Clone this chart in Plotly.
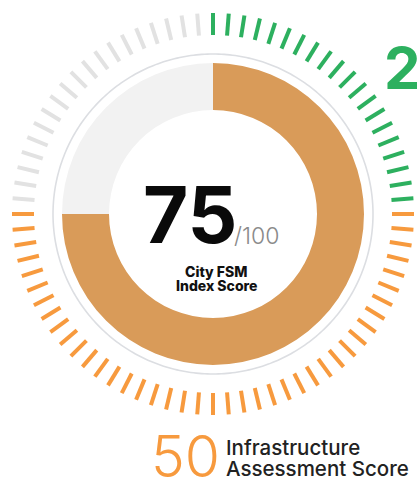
import numpy as np
import plotly.graph_objects as go

# ---- data ----
index_score = 75
index_max = 100
segments = ["Score", "Remaining"]
segment_values = [75, 25]
tick_groups = ["green", "orange", "gray"]
tick_group_counts = [20, 41, 19]          # ticks per coloured group (clockwise from 12 o'clock)
green_score_label = "25"
infra_score_label = "50"
center_lines = ["City FSM", "Index Score"]
infra_lines = ["Infrastructure", "Assessment Score"]

# ---- style ----
W, H = 417, 484
CX, CY = 213, 214          # centre in px (from top-left)
RPX = 204                  # radius of polar domain in px
donut_colors = ["#D99B59", "#F2F2F2"]
tick_colors = {"green": "#2DB05F", "orange": "#F79A3E", "gray": "#E2E2E2"}
R_IN, R_OUT = 104, 151
T_IN, T_OUT = 179, 201
RING_R = 160

fig = go.Figure()

# donut (barpolar)
total = sum(segment_values)
start = 0.0
for name, val, col in zip(segments, segment_values, donut_colors):
    width = val / total * 360.0
    fig.add_trace(go.Barpolar(
        r=[R_OUT - R_IN], base=[R_IN], theta=[start + width / 2], width=[width],
        marker=dict(color=col, line=dict(width=0)), name=name, hoverinfo="skip",
        showlegend=False))
    start += width

# thin ring
ring_theta = np.linspace(0, 360, 361)
fig.add_trace(go.Scatterpolar(r=[RING_R] * len(ring_theta), theta=ring_theta, mode="lines",
                              line=dict(color="#DCDEE2", width=1.6), hoverinfo="skip",
                              showlegend=False))

# outer ticks
n_ticks = sum(tick_group_counts)
step = 360.0 / n_ticks
idx = 0
for grp, cnt in zip(tick_groups, tick_group_counts):
    rr, tt = [], []
    for k in range(cnt):
        a = (idx + k) * step
        rr += [T_IN, T_OUT, None]
        tt += [a, a, None]
    idx += cnt
    fig.add_trace(go.Scatterpolar(r=rr, theta=tt, mode="lines",
                                  line=dict(color=tick_colors[grp], width=4),
                                  hoverinfo="skip", showlegend=False))

fig.update_layout(
    width=W, height=H, margin=dict(l=0, r=0, t=0, b=0),
    paper_bgcolor="white", plot_bgcolor="white",
    polar=dict(
        domain=dict(x=[(CX - RPX) / W, (CX + RPX) / W],
                    y=[(H - CY - RPX) / H, (H - CY + RPX) / H]),
        bgcolor="white",
        radialaxis=dict(range=[0, RPX], visible=False),
        angularaxis=dict(rotation=90, direction="clockwise", visible=False),
        bargap=0,
    ),
)

def px(x):
    return x / W

def py(y):
    return 1 - y / H

ann = []
ann.append(dict(text=f"<b>{index_score}</b>", x=px(238), y=py(214), xanchor="right", yanchor="middle",
                font=dict(family="Inter", size=78, color="#0A0A0A", weight=900)))
ann.append(dict(text=f"/{index_max}", x=px(233), y=py(236), xanchor="left", yanchor="middle",
                font=dict(family="Inter", size=23, color="#8A8A8A", weight=300)))
for line, yy in zip(center_lines, [271, 285]):
    ann.append(dict(text=line, x=px(216), y=py(yy), xanchor="center", yanchor="middle",
                    font=dict(family="Inter", size=14, color="#111111", weight=800)))
ann.append(dict(text=infra_score_label, x=px(150), y=py(456), xanchor="left", yanchor="middle",
                font=dict(family="Inter", size=57, color=tick_colors["orange"], weight=300)))
for line, yy in zip(infra_lines, [447, 468]):
    ann.append(dict(text=line, x=px(225), y=py(yy), xanchor="left", yanchor="middle",
                    font=dict(family="Inter", size=20.5, color="#222222", weight=500)))
ann.append(dict(text=green_score_label, x=px(383), y=py(68), xanchor="left", yanchor="middle",
                font=dict(family="Inter", size=58, color=tick_colors["green"], weight=700)))
for a in ann:
    a.update(xref="paper", yref="paper", showarrow=False, borderpad=0)
fig.update_layout(annotations=ann)

fig.write_html("out.html", config={"displayModeBar": False, "staticPlot": True},
               post_script="document.body.style.margin='0';document.body.style.overflow='hidden';")
